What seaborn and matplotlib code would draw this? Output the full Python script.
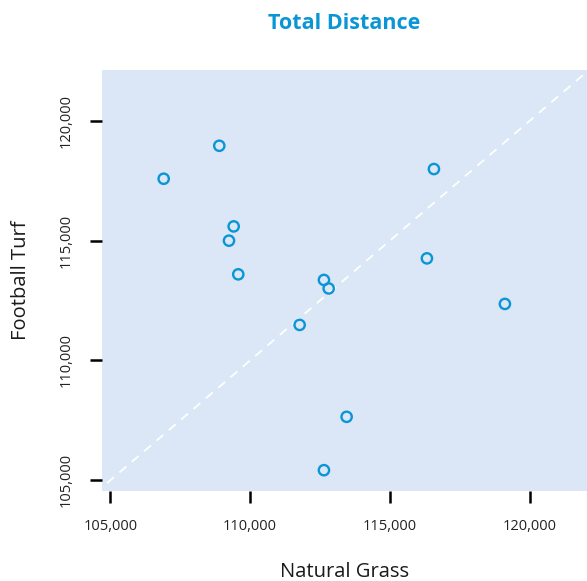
import numpy as np
import pandas as pd
import matplotlib
matplotlib.use("Agg")
import matplotlib.pyplot as plt
import seaborn as sns
from matplotlib.ticker import FuncFormatter

# Datos (distancia total por equipo)
natural_grass = [108895, 106906, 109410, 109242, 109574, 112639, 112808,
                 116574, 116323, 119113, 111770, 113451, 112639]
football_turf = [118957, 117581, 115592, 114996, 113591, 113357, 113003,
                 117986, 114258, 112356, 111480, 107644, 105417]
ticks = [105000, 110000, 115000, 120000]

df = pd.DataFrame({"Natural Grass": natural_grass, "Football Turf": football_turf})

sns.set_style("white")
plt.rcParams["font.family"] = ["Open Sans", "DejaVu Sans"]

blue = "#0a96d6"
fig = plt.figure(figsize=(5.87, 5.81), dpi=100)
ax = fig.add_axes([0.1738, 0.155, 0.8262, 0.7237])
ax.set_facecolor("#dbe7f6")

ax.set_xlim(104700, 122050)
ax.set_ylim(104550, 122100)

# diagonal y = x
lims = [104000, 123000]
ax.plot(lims, lims, color="white", linestyle=(0, (5, 4)), linewidth=1.3, zorder=1)

sns.scatterplot(data=df, x="Natural Grass", y="Football Turf", ax=ax,
                facecolor="none", edgecolor=blue, linewidth=1.7, s=55, zorder=3)

for s in ax.spines.values():
    s.set_visible(False)

ax.set_xticks(ticks)
ax.set_yticks(ticks)
fmt = FuncFormatter(lambda v, p: f"{int(v):,}")
ax.xaxis.set_major_formatter(fmt)
ax.yaxis.set_major_formatter(fmt)
ax.tick_params(axis="both", bottom=True, left=True, direction="out", length=8.5,
               width=1.8, color="black", labelsize=10.5, labelcolor="#222222", pad=12)
plt.setp(ax.get_yticklabels(), rotation=90, va="center")

ax.set_xlabel("Natural Grass", fontsize=14.5, labelpad=20, color="#1a1a1a")
ax.set_ylabel("Football Turf", fontsize=14.5, labelpad=20, color="#1a1a1a")
ax.set_title("Total Distance", fontsize=15.5, fontweight="bold", color=blue, pad=30)

fig.savefig("out.png", dpi=100)
